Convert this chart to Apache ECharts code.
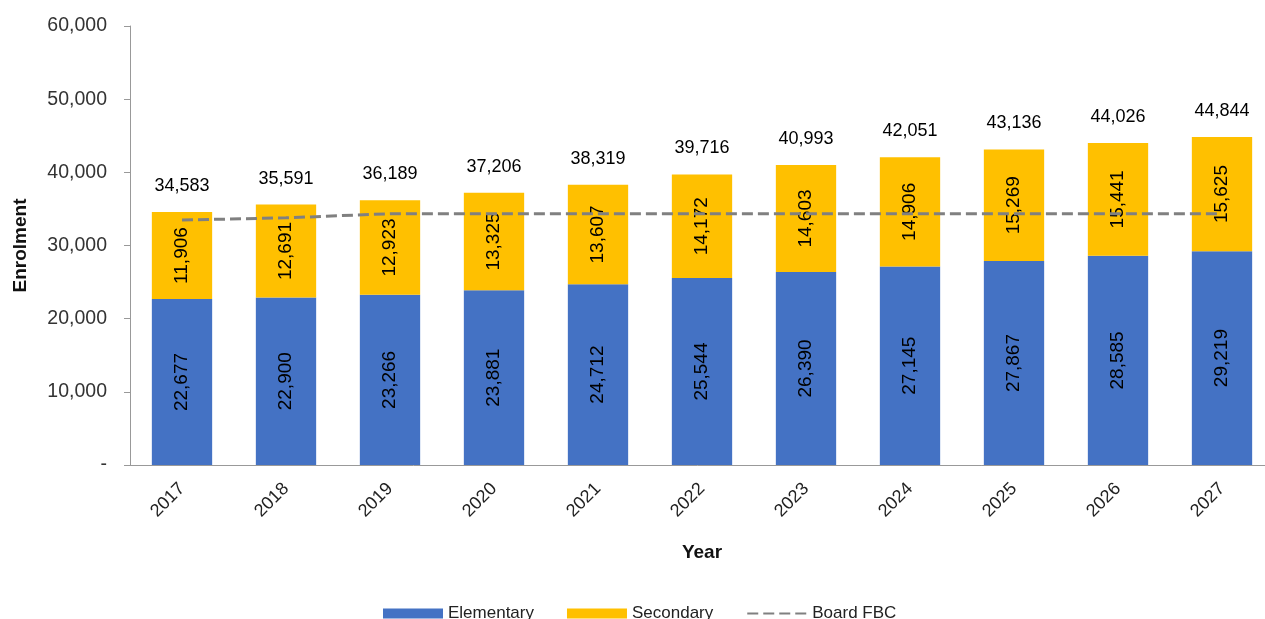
<!DOCTYPE html>
<html>
<head>
<meta charset="utf-8">
<script src="https://cdn.jsdelivr.net/npm/echarts@6/dist/echarts.min.js"></script>
<style>
  html, body { margin: 0; padding: 0; background: #fff; }
  #chart { width: 1265px; height: 619px; }
</style>
</head>
<body>
<div id="chart"></div>
<script>
var years = ['2017', '2018', '2019', '2020', '2021', '2022', '2023', '2024', '2025', '2026', '2027'];
var elementary = [22677, 22900, 23266, 23881, 24712, 25544, 26390, 27145, 27867, 28585, 29219];
var secondary = [11906, 12691, 12923, 13325, 13607, 14172, 14603, 14906, 15269, 15441, 15625];
var totals = [34583, 35591, 36189, 37206, 38319, 39716, 40993, 42051, 43136, 44026, 44844];
var boardFbc = [33480, 33780, 34350, 34350, 34350, 34350, 34350, 34350, 34350, 34350, 34350];

var fontName = '"Liberation Sans", Arial, sans-serif';

function fmt(v) {
    return Number(v).toLocaleString('en-US');
}

var myChart = echarts.init(document.getElementById('chart'));
var option = {
    animation: false,
    textStyle: { fontFamily: fontName },
    grid: { left: 130, width: 1144, top: 26, bottom: 154, outerBoundsMode: 'none', containLabel: false },
    legend: {
        top: 600,
        left: 378,
        itemWidth: 60,
        itemHeight: 10,
        itemGap: 33,
        textStyle: { fontSize: 17, color: '#222', fontFamily: fontName },
        data: [
            { name: 'Elementary', icon: 'rect' },
            { name: 'Secondary', icon: 'rect' },
            { name: 'Board FBC', itemStyle: { opacity: 0 } }
        ]
    },
    xAxis: {
        type: 'category',
        data: years,
        name: 'Year',
        nameLocation: 'middle',
        nameGap: 78,
        nameTextStyle: { fontSize: 19, fontWeight: 'bold', color: '#111' },
        axisLine: { lineStyle: { color: '#999' } },
        axisTick: { alignWithLabel: true, lineStyle: { color: '#999' } },
        axisLabel: { rotate: 45, fontSize: 18, color: '#222', margin: 21 }
    },
    yAxis: {
        type: 'value',
        min: 0,
        max: 60000,
        interval: 10000,
        name: 'Enrolment',
        nameLocation: 'middle',
        nameGap: 100,
        nameTextStyle: { fontSize: 19, fontWeight: 'bold', color: '#111' },
        axisLine: { show: true, lineStyle: { color: '#999' } },
        axisTick: { show: true, length: 6, lineStyle: { color: '#999' } },
        splitLine: { show: false },
        axisLabel: {
            fontSize: 19.5,
            color: '#333',
            margin: 23,
            formatter: function (v) { return v === 0 ? '-' : fmt(v); }
        }
    },
    series: [
        {
            name: 'Elementary',
            type: 'bar',
            stack: 'total',
            barWidth: '58%',
            data: elementary,
            itemStyle: { color: '#4472C4' },
            label: {
                show: true,
                position: 'inside',
                rotate: 90,
                fontSize: 19,
                color: '#000',
                formatter: function (p) { return fmt(p.value); }
            }
        },
        {
            name: 'Secondary',
            type: 'bar',
            stack: 'total',
            data: secondary,
            itemStyle: { color: '#FFC000' },
            label: {
                show: true,
                position: 'inside',
                rotate: 90,
                fontSize: 19,
                color: '#000',
                formatter: function (p) { return fmt(p.value); }
            }
        },
        {
            name: 'Total',
            type: 'line',
            data: totals,
            symbol: 'circle',
            symbolSize: 2,
            showSymbol: true,
            itemStyle: { color: 'rgba(255,255,255,0)' },
            lineStyle: { width: 0, color: 'rgba(255,255,255,0)' },
            silent: true,
            label: {
                show: true,
                position: 'top',
                distance: 16,
                fontSize: 18,
                color: '#000',
                formatter: function (p) { return fmt(p.value); }
            },
            z: 5
        },
        {
            name: 'Board FBC',
            type: 'line',
            data: boardFbc,
            symbol: 'none',
            lineStyle: { color: '#808080', width: 3, type: [11, 5] },
            itemStyle: { color: '#808080' },
            z: 4
        }
    ]
};
myChart.setOption(option);
</script>
</body>
</html>
